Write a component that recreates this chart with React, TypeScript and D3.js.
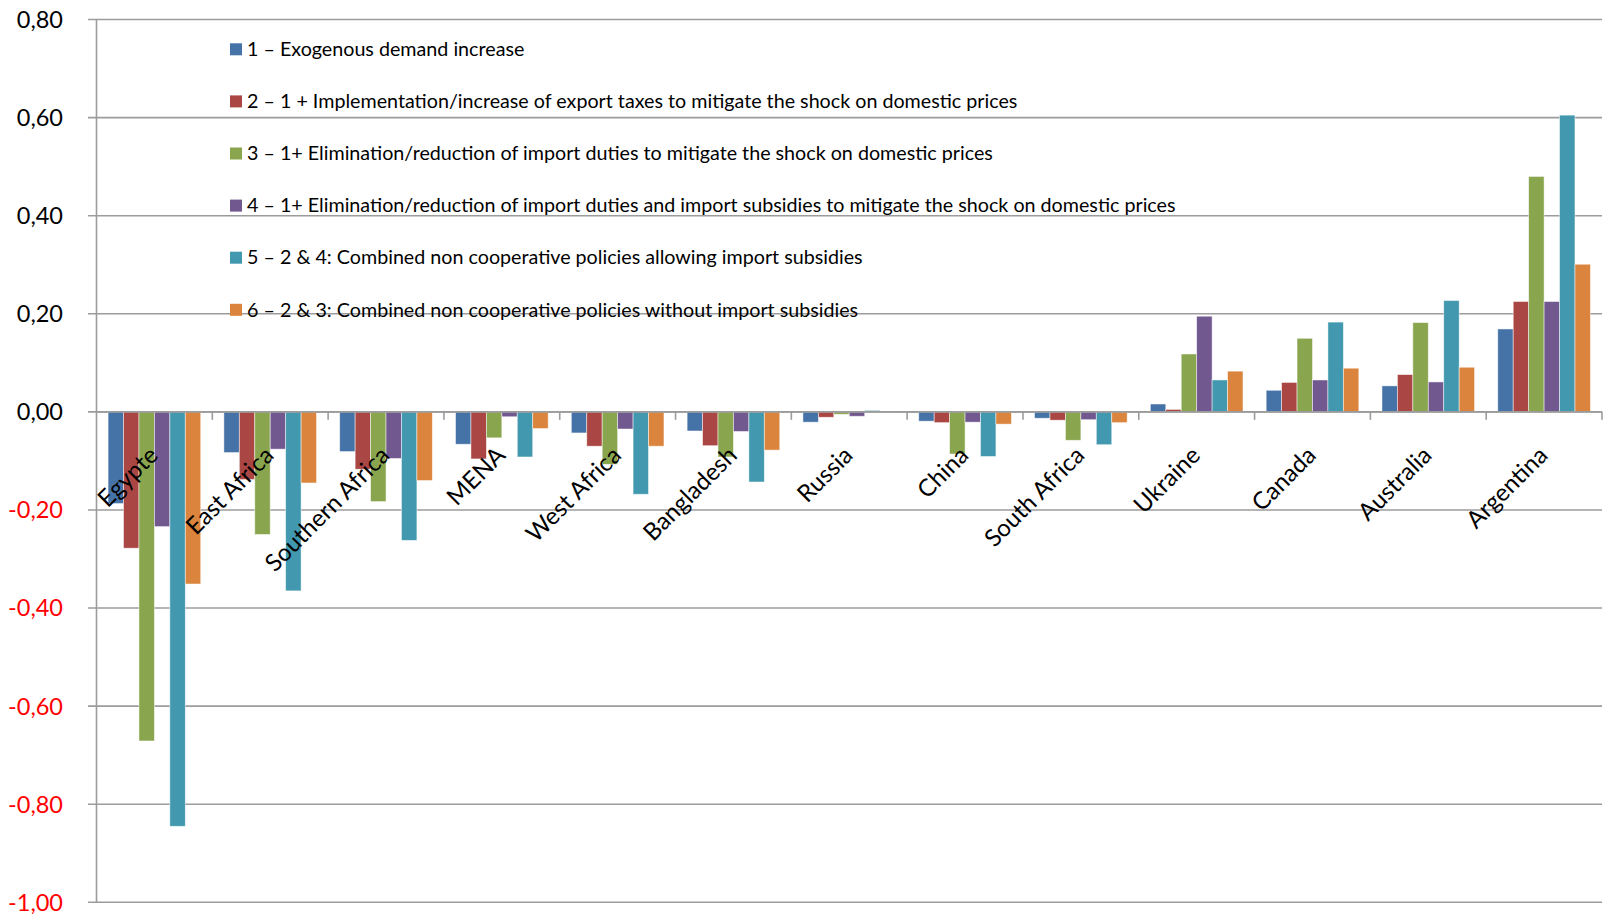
import React from "react";
import * as d3 from "d3";

const categories = [
  "Egypte", "East Africa", "Southern Africa", "MENA", "West Africa", "Bangladesh",
  "Russia", "China", "South Africa", "Ukraine", "Canada", "Australia", "Argentina",
];

const seriesNames = [
  "1 – Exogenous demand increase",
  "2 – 1 + Implementation/increase of export taxes to mitigate the shock on domestic prices",
  "3 – 1+ Elimination/reduction of import duties to mitigate the shock on domestic prices",
  "4 – 1+ Elimination/reduction of import duties and import subsidies to mitigate the shock on domestic prices",
  "5 – 2 & 4: Combined non cooperative policies allowing import subsidies",
  "6 – 2 & 3: Combined non cooperative policies without import subsidies",
];

const seriesColors = ["#4572A7", "#AA4643", "#89A54E", "#71588F", "#4198AF", "#DB843D"];

const s1 = [-0.187, -0.083, -0.081, -0.066, -0.043, -0.039, -0.021, -0.019, -0.013, 0.016, 0.044, 0.053, 0.169];
const s2 = [-0.278, -0.138, -0.117, -0.096, -0.070, -0.069, -0.011, -0.022, -0.017, 0.005, 0.060, 0.076, 0.225];
const s3 = [-0.671, -0.250, -0.183, -0.053, -0.107, -0.092, -0.005, -0.086, -0.058, 0.118, 0.150, 0.182, 0.480];
const s4 = [-0.234, -0.076, -0.095, -0.010, -0.035, -0.040, -0.009, -0.021, -0.016, 0.195, 0.065, 0.061, 0.225];
const s5 = [-0.845, -0.365, -0.262, -0.092, -0.168, -0.143, 0.003, -0.091, -0.067, 0.065, 0.183, 0.227, 0.605];
const s6 = [-0.351, -0.145, -0.140, -0.034, -0.070, -0.078, 0.001, -0.025, -0.022, 0.083, 0.089, 0.091, 0.301];

const seriesValues = [s1, s2, s3, s4, s5, s6];

const yDomain: [number, number] = [-1, 0.8];

const W = 1603;
const H = 915;
const FONT = "Lato, 'Open Sans', sans-serif";

const locale = d3.formatLocale({
  decimal: ",",
  thousands: ".",
  grouping: [3],
  currency: ["", ""],
  minus: "-",
});
const fmt = locale.format(".2f");

export default function App() {
  const plotLeft = 96.5;
  const plotRight = 1602;
  const plotTop = 19.5;
  const plotBottom = 902.3;

  const x = d3.scaleBand<string>().domain(categories).range([plotLeft, plotRight]).paddingInner(0).paddingOuter(0);
  const xs = d3
    .scaleBand<number>()
    .domain(d3.range(seriesValues.length))
    .range([0, x.bandwidth()])
    .paddingInner(0)
    .paddingOuter(0.75);
  const y = d3.scaleLinear().domain(yDomain).range([plotBottom, plotTop]);
  const ticks = y.ticks(10);
  const y0 = y(0);

  const gridColor = "#9C9C9C";

  const legendX = 230;
  const legendTop = 43.3;
  const legendStep = 52.1;

  return (
    <svg
      width={W}
      height={H}
      style={{ position: "absolute", left: 0, top: 0, display: "block", background: "#fff" }}
      fontFamily={FONT}
    >
      {/* gridlines */}
      {ticks.map((t) => (
        <line key={"g" + t} x1={plotLeft - 8.5} x2={plotRight} y1={y(t)} y2={y(t)} stroke={gridColor} strokeWidth={1.6} />
      ))}
      {/* y axis */}
      <line x1={plotLeft} x2={plotLeft} y1={plotTop} y2={plotBottom} stroke={gridColor} strokeWidth={1.6} />
      {ticks.map((t) => (
        <text
          key={"t" + t}
          x={63}
          y={y(t)}
          dy="0.36em"
          textAnchor="end"
          fontSize={23.5}
          fill={t < 0 ? "#FF0000" : "#000"}
        >
          {fmt(t)}
        </text>
      ))}
      {/* legend */}
      {seriesNames.map((name, i) => (
        <g key={"l" + i}>
          <rect x={legendX} y={legendTop + i * legendStep} width={12} height={12} fill={seriesColors[i]} />
          <text x={legendX + 17} y={legendTop + i * legendStep + 12.7} fontSize={19.7} fill="#000">
            {name}
          </text>
        </g>
      ))}
      {/* bars */}
      {seriesValues.map((vals, si) => (
        <g key={"s" + si} fill={seriesColors[si]}>
          {vals.map((v, ci) => {
            const bx = (x(categories[ci]) as number) + (xs(si) as number);
            const yTop = y(Math.max(0, v));
            const yBot = y(Math.min(0, v));
            return (
              <rect
                key={ci}
                x={bx}
                y={yTop}
                width={xs.bandwidth()}
                height={Math.max(0.5, yBot - yTop)}
                stroke="#ffffff"
                strokeOpacity={0.6}
                strokeWidth={0.8}
              />
            );
          })}
        </g>
      ))}
      {/* x axis */}
      <line x1={plotLeft} x2={plotRight} y1={y0} y2={y0} stroke={gridColor} strokeWidth={1.6} />
      {categories.map((c, i) => (
        <line
          key={"xt" + i}
          x1={(x(c) as number) + x.bandwidth()}
          x2={(x(c) as number) + x.bandwidth()}
          y1={y0}
          y2={y0 + 8}
          stroke={gridColor}
          strokeWidth={1.6}
        />
      ))}
      {/* category labels */}
      {categories.map((c) => {
        const cx = (x(c) as number) + x.bandwidth() / 2 + 5;
        const cy = y0 + 45;
        return (
          <text
            key={"c" + c}
            transform={`translate(${cx},${cy}) rotate(-45)`}
            textAnchor="end"
            fontSize={24}
            fill="#000"
          >
            {c}
          </text>
        );
      })}
    </svg>
  );
}
